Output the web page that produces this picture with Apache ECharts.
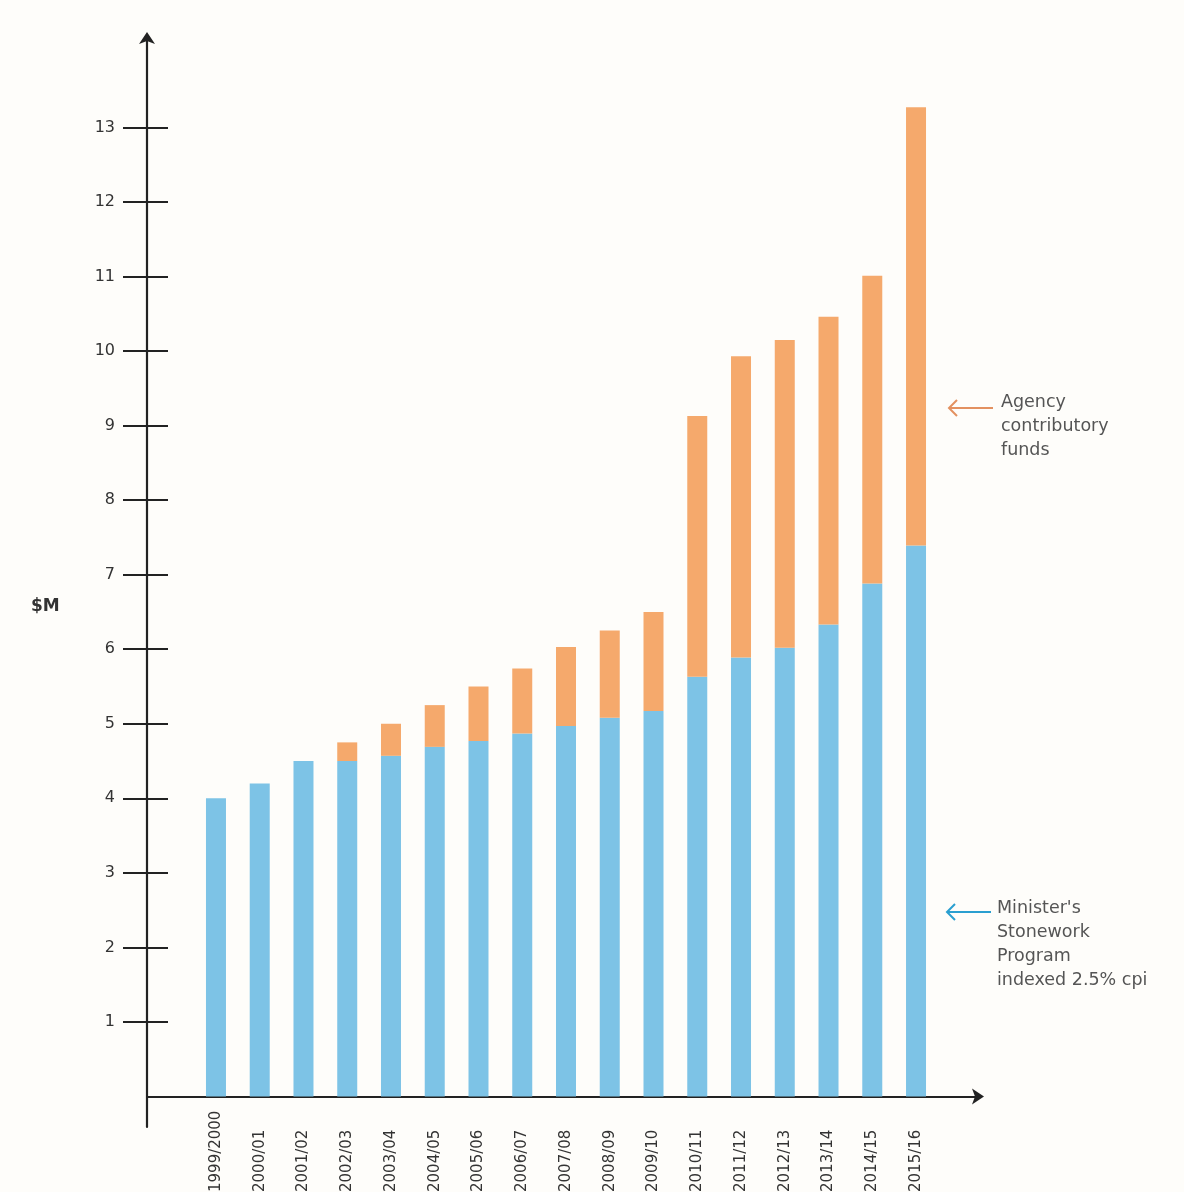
<!DOCTYPE html>
<html>
<head>
<meta charset="utf-8">
<script src="https://cdn.jsdelivr.net/npm/echarts@6/dist/echarts.min.js"></script>
<style>
html,body{margin:0;padding:0;background:#fefdfa;}
#chart{width:1184px;height:1192px;}
</style>
</head>
<body>
<div id="chart"></div>
<script>
const categories = ['1999/2000','2000/01','2001/02','2002/03','2003/04','2004/05','2005/06','2006/07','2007/08','2008/09','2009/10','2010/11','2011/12','2012/13','2013/14','2014/15','2015/16'];
const ministerProgram = [4.0, 4.2, 4.5, 4.5, 4.57, 4.69, 4.77, 4.87, 4.97, 5.08, 5.17, 5.63, 5.89, 6.02, 6.33, 6.88, 7.39];
const totals = [4.0, 4.2, 4.5, 4.75, 5.0, 5.25, 5.5, 5.74, 6.03, 6.25, 6.5, 9.13, 9.93, 10.15, 10.46, 11.01, 13.27];
const agencyFunds = totals.map((t, i) => +(t - ministerProgram[i]).toFixed(2));
const yTickValues = [1,2,3,4,5,6,7,8,9,10,11,12,13];

const FONT = 'DejaVu Sans';
const AXIS_COLOR = '#222';
const Y_MIN = -0.41, Y_MAX = 14.2;

const chart = echarts.init(document.getElementById('chart'), null, {renderer: 'canvas'});
chart.setOption({
  backgroundColor: '#fefdfa',
  animation: false,
  grid: [
    {left: 194.1, right: 246.1, top: 38, bottom: 65, outerBoundsMode: 'none', containLabel: false},
    {left: 147, right: 206, top: 38, bottom: 65, outerBoundsMode: 'none', containLabel: false}
  ],
  xAxis: [
    {
      type: 'category', gridIndex: 0, data: categories,
      axisLine: {show: false, onZero: false},
      axisTick: {show: false},
      axisLabel: {
        interval: 0, rotate: 90, align: 'left', margin: 65,
        fontFamily: FONT, fontSize: 15, color: '#333'
      }
    },
    {
      type: 'value', gridIndex: 1, min: 0, max: 1,
      axisLine: {show: true, onZero: true, symbol: ['none', 'arrow'], symbolSize: [12, 12], symbolOffset: [0, 6],
        lineStyle: {color: AXIS_COLOR, width: 2.2}},
      axisTick: {show: false}, axisLabel: {show: false}, splitLine: {show: false}
    }
  ],
  yAxis: [
    {
      type: 'value', gridIndex: 0, min: Y_MIN, max: Y_MAX, show: false, splitLine: {show: false}
    },
    {
      type: 'value', gridIndex: 1, min: Y_MIN, max: Y_MAX,
      axisLine: {show: true, onZero: true, symbol: ['none', 'arrow'], symbolSize: [12, 12], symbolOffset: [0, 6],
        lineStyle: {color: AXIS_COLOR, width: 2.2}},
      axisTick: {show: true, length: 24, inside: false, customValues: yTickValues,
        lineStyle: {color: AXIS_COLOR, width: 2}},
      axisLabel: {show: true, customValues: yTickValues, margin: 32, align: 'right',
        fontFamily: FONT, fontSize: 16, color: '#333'},
      splitLine: {show: false}
    },
    {
      type: 'value', gridIndex: 1, min: Y_MIN, max: Y_MAX, position: 'left',
      axisLine: {show: false},
      axisTick: {show: true, length: 21, inside: true, customValues: yTickValues,
        lineStyle: {color: AXIS_COLOR, width: 2}},
      axisLabel: {show: false},
      splitLine: {show: false}
    }
  ],
  series: [
    {
      name: "Minister's Stonework Program indexed 2.5% cpi", type: 'bar', stack: 'total',
      xAxisIndex: 0, yAxisIndex: 0, data: ministerProgram, barWidth: 20,
      itemStyle: {color: '#7dc3e6'}
    },
    {
      name: 'Agency contributory funds', type: 'bar', stack: 'total',
      xAxisIndex: 0, yAxisIndex: 0, data: agencyFunds, barWidth: 20,
      itemStyle: {color: '#f5a96c'}
    }
  ],
  graphic: [
    {type: 'text', left: 31, top: 598, style: {text: '$M', font: 'bold 17px "DejaVu Sans"', fill: '#333'}},
    {type: 'text', left: 1001, top: 390, style: {text: 'Agency\ncontributory\nfunds', font: '17.5px "DejaVu Sans"', lineHeight: 24, fill: '#555'}},
    {type: 'text', left: 997, top: 896, style: {text: "Minister's\nStonework\nProgram\nindexed 2.5% cpi", font: '17.5px "DejaVu Sans"', lineHeight: 24, fill: '#555'}},
    {type: 'polyline', shape: {points: [[993, 408], [949, 408]]}, style: {stroke: '#e39160', lineWidth: 2, fill: null}},
    {type: 'polyline', shape: {points: [[957, 400], [949, 408], [957, 416]]}, style: {stroke: '#e39160', lineWidth: 2, fill: null}},
    {type: 'polyline', shape: {points: [[991, 912], [947, 912]]}, style: {stroke: '#2a9fd0', lineWidth: 2, fill: null}},
    {type: 'polyline', shape: {points: [[955, 904], [947, 912], [955, 920]]}, style: {stroke: '#2a9fd0', lineWidth: 2, fill: null}}
  ]
});
</script>
</body>
</html>
